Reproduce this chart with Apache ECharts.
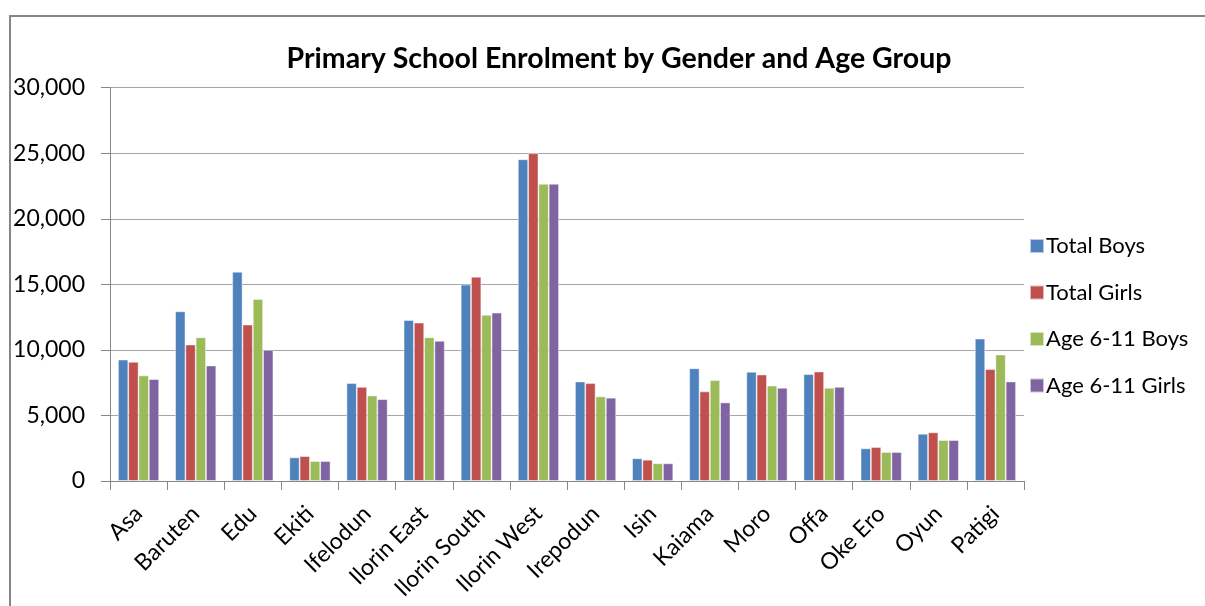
<!DOCTYPE html>
<html><head><meta charset="utf-8">
<script src="https://cdn.jsdelivr.net/npm/echarts@6/dist/echarts.min.js"></script>
<style>html,body{margin:0;padding:0;background:#fff}#c{width:1205px;height:606px}</style>
</head><body><div id="c"></div>
<script>
const categories = ["Asa","Baruten","Edu","Ekiti","Ifelodun","Ilorin East","Ilorin South","Ilorin West","Irepodun","Isin","Kaiama","Moro","Offa","Oke Ero","Oyun","Patigi"];
const totalBoys   = [9260,12940,15960,1800,7460,12280,14980,24540,7590,1730,8600,8330,8150,2490,3600,10860];
const totalGirls  = [9090,10410,11930,1900,7180,12080,15580,25000,7460,1620,6830,8120,8350,2590,3710,8530];
const age611Boys  = [8050,10960,13880,1520,6520,10960,12670,22670,6450,1350,7690,7280,7110,2210,3120,9650];
const age611Girls = [7770,8810,10000,1520,6240,10690,12840,22670,6350,1350,5990,7110,7180,2210,3120,7590];
const seriesNames = ["Total Boys","Total Girls","Age 6-11 Boys","Age 6-11 Girls"];
const colors = ["#4F81BD","#C0504D","#9BBB59","#8064A2"];
const yTicks = [0,5000,10000,15000,20000,25000,30000];

const font = "Lato, 'Open Sans', sans-serif";
const chart = echarts.init(document.getElementById('c'), null, {renderer:'canvas'});
const data = [totalBoys,totalGirls,age611Boys,age611Girls];
chart.setOption({
  animation:false,
  color: colors,
  textStyle:{fontFamily:font},
  title:{text:"Primary School Enrolment by Gender and Age Group", left:614, textAlign:'center', top:39,
    textStyle:{fontFamily:font, fontSize:28.5, fontWeight:'bold', color:'#000'}},
  graphic:[{type:'rect', shape:{x:10,y:16,width:1220,height:620}, style:{fill:'none', stroke:'#868686', lineWidth:2}, silent:true}],
  legend:{orient:'vertical', left:1024, top:230, itemWidth:14, itemHeight:14, itemGap:24.5, icon:'rect',
    textStyle:{fontFamily:font, fontSize:22, color:'#000', padding:[0,0,0,-3]}, data: seriesNames},
  grid:{left:110, right:181, top:87.7, bottom:125, containLabel:false},
  xAxis:{type:'category', data:categories,
    axisLine:{lineStyle:{color:'#868686', width:1}},
    axisTick:{show:true, length:9, lineStyle:{color:'#868686'}},
    axisLabel:{rotate:45, fontSize:23, color:'#000', margin:29, fontFamily:font, interval:0}},
  yAxis:{type:'value', min:0, max:30000, interval:5000,
    axisLine:{show:true, lineStyle:{color:'#868686'}},
    axisTick:{show:true, length:9, lineStyle:{color:'#868686'}},
    splitLine:{lineStyle:{color:'#A6A6A6', width:1.2}},
    axisLabel:{fontSize:23, color:'#000', margin:25, fontFamily:font,
      formatter:v=>yTicks.includes(v)? v.toLocaleString('en-US') : ''}},
  series: seriesNames.map((n,i)=>({name:n, type:'bar', data:data[i], barGap:'0%', barCategoryGap:'28%',
    itemStyle:{color:colors[i], borderColor:'rgba(255,255,255,0.6)', borderWidth:0.8}}))
});
</script></body></html>
